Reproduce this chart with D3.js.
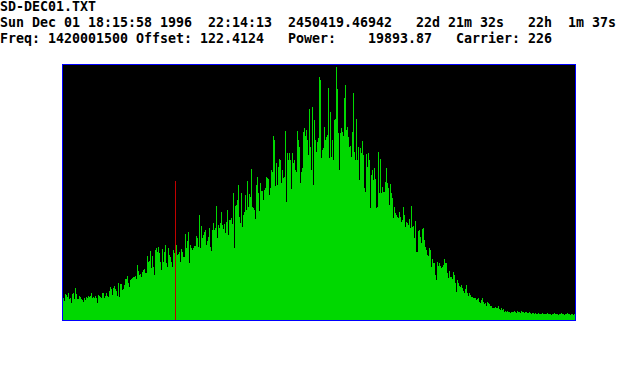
<!DOCTYPE html>
<html>
<head>
<meta charset="utf-8">
<script src="https://cdn.jsdelivr.net/npm/d3@7"></script>
<style>
  html, body { margin: 0; padding: 0; background: #fff; }
  text { font-family: "DejaVu Sans Mono", "Liberation Mono", monospace; font-weight: bold; white-space: pre; }
</style>
</head>
<body>
<div id="container"></div>
<script>
// header lines of the receiver log
const headerLines = [
  'SD-DEC01.TXT',
  'Sun Dec 01 18:15:58 1996  22:14:13  2450419.46942   22d 21m 32s   22h  1m 37s',
  'Freq: 1420001500 Offset: 122.4124   Power:    19893.87   Carrier: 226',
];

// spectrum, one value per channel (full scale = 256)
const power = [
  22,19,26,25,23,27,21,22,17,26,
  27,21,32,26,21,21,24,23,21,20,
  18,22,20,23,22,24,23,24,27,22,
  23,22,24,22,17,25,24,23,22,27,
  27,22,24,27,24,23,29,33,31,25,
  32,34,31,29,24,37,23,36,36,30,
  31,35,41,41,44,37,33,40,41,42,
  43,43,44,41,55,49,45,46,43,48,
  50,51,47,47,64,58,59,69,52,64,
  53,45,70,72,68,73,67,58,50,71,
  58,68,75,57,53,72,65,63,58,53,
  70,67,65,75,65,66,68,58,71,68,
  63,63,86,72,79,88,57,75,72,70,
  72,74,74,84,82,73,105,72,94,82,
  85,88,90,75,79,83,92,73,69,90,
  97,90,92,114,82,95,92,97,108,95,
  91,96,87,98,110,85,100,100,102,96,
  127,72,114,115,120,135,103,97,127,93,
  105,108,125,110,139,113,126,123,151,113,
  112,110,101,135,143,127,109,137,129,129,
  120,130,132,143,142,141,125,132,150,148,
  184,180,134,157,135,153,161,160,137,150,
  142,143,189,118,167,160,167,160,131,167,
  157,160,150,148,189,180,173,137,148,152,
  188,192,184,190,180,165,211,173,150,213,
  135,200,180,168,178,182,243,240,162,170,
  172,193,180,183,185,232,162,208,163,180,
  160,200,201,253,231,187,150,187,192,188,
  184,222,235,190,193,183,173,174,163,188,
  227,168,160,201,160,173,140,172,167,179,
  165,132,128,166,153,167,160,112,145,150,
  140,152,141,112,113,168,127,161,127,133,
  128,128,138,152,137,132,115,136,127,122,
  102,113,107,105,103,102,108,103,98,100,
  113,105,93,98,97,95,101,92,114,93,
  94,82,99,68,68,89,90,83,77,91,
  92,80,73,70,65,64,72,70,53,61,
  57,57,45,40,58,54,57,54,52,53,
  55,61,57,57,47,42,49,43,43,41,
  48,45,37,28,40,37,34,33,35,32,
  29,27,31,35,27,24,27,25,23,23,
  22,22,22,20,21,22,18,17,20,22,
  18,16,17,14,18,17,16,14,14,12,
  12,12,13,12,12,14,11,10,12,10,
  11,8,9,8,9,8,8,7,8,8,
  8,9,8,7,9,8,8,7,9,8,
  8,7,8,8,7,7,8,7,6,7,
  7,6,7,6,6,7,6,6,6,7,
  6,6,6,6,7,6,6,6,5,6,
  6,7,6,6,6,5,6,6,7,6,
  6,5,6,6,7,6,6,5,6,6,5,6,
];

// carrier marker
const carrierChannel = 112;
const carrierLevel = 139;

const width = 640;
const height = 380;
const plot = { left: 62, top: 64, right: 575, bottom: 320 };
const charW = 8;

const svg = d3.select('#container')
  .append('svg')
  .attr('width', width)
  .attr('height', height);

// header text
svg.selectAll('text.header')
  .data(headerLines)
  .enter()
  .append('text')
  .attr('class', 'header')
  .attr('x', 0)
  .attr('y', (d, i) => 11 + i * 16)
  .attr('font-size', '13.3px')
  .attr('fill', '#000')
  .attr('textLength', (d) => d.length * charW)
  .attr('lengthAdjust', 'spacing')
  .text((d) => d);

const xScale = d3.scaleBand()
  .domain(d3.range(power.length))
  .range([plot.left + 1, plot.right]);

const yScale = d3.scaleLinear()
  .domain([0, 256])
  .range([plot.bottom, plot.top]);

// plot background
svg.append('rect')
  .attr('x', plot.left)
  .attr('y', plot.top)
  .attr('width', plot.right - plot.left)
  .attr('height', plot.bottom - plot.top)
  .attr('fill', '#000');

// spectrum bars
svg.append('g')
  .attr('shape-rendering', 'crispEdges')
  .selectAll('rect')
  .data(power)
  .enter()
  .append('rect')
  .attr('x', (d, i) => xScale(i))
  .attr('width', xScale.bandwidth())
  .attr('y', (d) => yScale(d))
  .attr('height', (d) => plot.bottom - yScale(d))
  .attr('fill', '#00d800');

// carrier line
svg.append('line')
  .attr('x1', xScale(carrierChannel) + 0.5)
  .attr('x2', xScale(carrierChannel) + 0.5)
  .attr('y1', yScale(carrierLevel))
  .attr('y2', plot.bottom)
  .attr('stroke', '#c00000')
  .attr('stroke-width', 1);

// frame
svg.append('rect')
  .attr('x', plot.left + 0.5)
  .attr('y', plot.top + 0.5)
  .attr('width', plot.right - plot.left)
  .attr('height', plot.bottom - plot.top)
  .attr('fill', 'none')
  .attr('stroke', '#0000ff')
  .attr('stroke-width', 1);
</script>
</body>
</html>
